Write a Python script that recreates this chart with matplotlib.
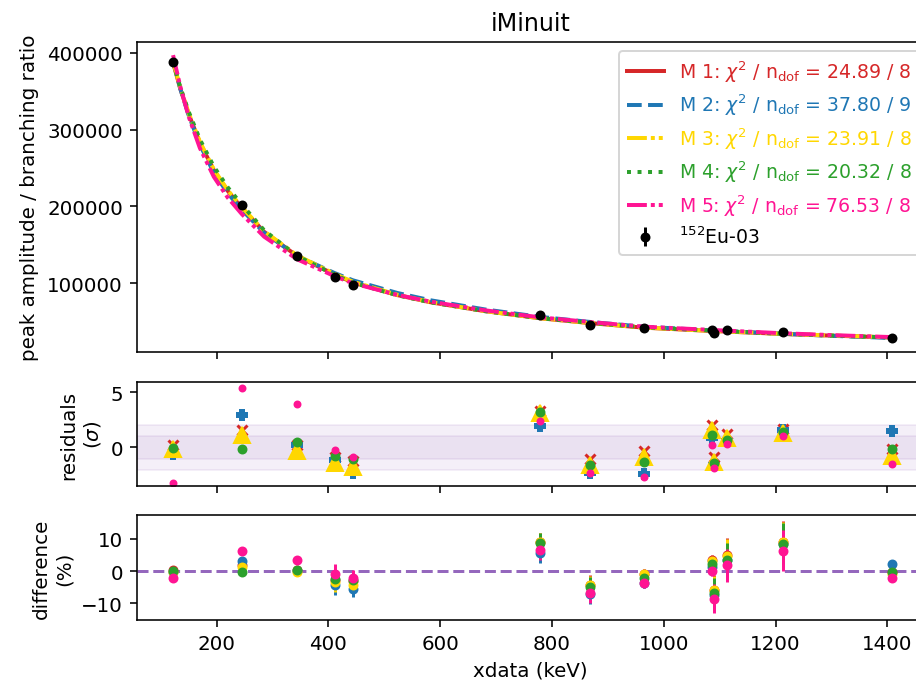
import matplotlib
matplotlib.use("Agg")
import matplotlib.pyplot as plt

# Eu-152 lines (keV) and measured values
xdata = [121.78, 244.70, 344.28, 411.12, 443.96, 778.90, 867.38,
         964.08, 1085.84, 1089.74, 1112.08, 1212.95, 1408.01]
ydata = [388000, 201700, 135600, 108200, 97800, 59200, 46100,
         41700, 39100, 35300, 38700, 37000, 29200]
rel_err = [0.7, 1.1, 0.9, 3.0, 2.5, 2.9, 3.0, 1.5, 1.5, 4.5, 5.2, 6.4, 1.4]  # percent

# fitted model curves, sampled
curve_x = [122, 135, 150, 170, 195, 220, 245, 285, 344, 411, 444, 523,
           583, 680, 779, 867, 964, 1086, 1213, 1300, 1408]
curve_m1 = [387200, 353000, 320000, 283000, 247000, 220000, 198100, 166800, 135300, 111200, 100800,
            84500, 75100, 63600, 54300, 48100, 42100, 37800, 33900, 31700, 29300]
curve_m2 = [389100, 353000, 318400, 280200, 243800, 216900, 195500, 165600, 135400, 113200, 103700,
            87300, 77700, 65800, 56100, 49600, 43300, 38600, 34100, 31500, 28600]
curve_m3 = [388700, 354400, 321300, 284100, 248000, 220900, 198900, 167600, 136100, 112000, 101800,
            85000, 75400, 63700, 54400, 48200, 42200, 37900, 34000, 31900, 29500]
curve_m4 = [388000, 355100, 323200, 287200, 251700, 224600, 202300, 168800, 135300, 110900, 100500,
            84300, 75000, 63600, 54400, 48400, 42600, 38300, 34100, 31800, 29300]
curve_m5 = [396900, 355800, 316800, 275900, 238400, 211200, 190000, 160500, 131100, 109100, 99800,
            84800, 75900, 64700, 55500, 49500, 43400, 39100, 34800, 32400, 29800]

# residuals (sigma)
res_m1 = [0.25, 1.6, 0.2, -0.9, -1.2, 3.3, -1.03, -0.36, 2.0, -0.88, 1.22, 1.65, -0.12]
res_m2 = [-0.6, 2.97, 0.18, -1.1, -2.33, 1.9, -2.27, -2.42, 0.85, -1.6, 0.6, 1.55, 1.52]
res_m3 = [-0.15, 1.1, -0.36, -1.36, -1.78, 3.1, -1.57, -0.9, 1.6, -1.27, 0.85, 1.3, -0.75]
res_m4 = [-0.03, -0.12, 0.45, -0.75, -1.03, 3.18, -1.57, -1.3, 1.15, -1.42, 0.64, 1.36, -0.15]
res_m5 = [-3.18, 5.34, 3.88, -0.27, -0.82, 2.36, -2.33, -2.7, 0.18, -1.82, 0.34, 1.0, -1.51]

# differences (%)
diff_m1 = [0.2, 1.8, 0.2, -2.7, -3.0, 9.0, -4.2, -0.8, 3.4, -5.8, 5.0, 9.2, -0.2]
diff_m2 = [-0.3, 3.1, 0.1, -4.4, -5.7, 5.5, -7.2, -3.6, 1.3, -7.5, 3.5, 8.5, 2.1]
diff_m3 = [-0.2, 1.35, -0.4, -3.4, -4.4, 8.9, -4.4, -1.0, 3.1, -6.0, 4.7, 9.0, -1.0]
diff_m4 = [0.0, -0.3, 0.2, -2.4, -2.7, 8.8, -4.8, -2.1, 2.1, -6.7, 3.6, 8.5, -0.2]
diff_m5 = [-2.2, 6.2, 3.4, -0.8, -2.0, 6.5, -6.9, -3.8, 0.0, -8.6, 1.8, 6.4, -2.0]

chi2 = ["24.89", "37.80", "23.91", "20.32", "76.53"]
ndof = [8, 9, 8, 8, 8]

colors = ["#d62728", "#1f77b4", "#FFD700", "#2ca02c", "#FF1493"]
styles = ["-", "--", (0, (5, 1, 1, 1, 1, 1)), ":", (0, (5, 1, 1, 1, 1, 1))]
res_markers = [("x", 5), ("P", 5.5), ("^", 8), ("o", 4), ("o", 3)]

curves = [curve_m1, curve_m2, curve_m3, curve_m4, curve_m5]
residuals = [res_m1, res_m2, res_m3, res_m4, res_m5]
diffs = [diff_m1, diff_m2, diff_m3, diff_m4, diff_m5]

yerr = [y * e / 100 for y, e in zip(ydata, rel_err)]

fig = plt.figure(figsize=(916 / 143, 683 / 143), dpi=143)
W, H = 916, 683
left, width = 137 / W, 810 / W   # right edge runs past the figure, like the original
ax1 = fig.add_axes([left, 1 - 353 / H, width, 310 / H])
ax2 = fig.add_axes([left, 1 - 487 / H, width, 104 / H], sharex=ax1)
ax3 = fig.add_axes([left, 1 - 621 / H, width, 105 / H], sharex=ax1)

# top panel: data and fits
handles = []
for i in range(5):
    label = r"M %d: $\chi^2$ / n$_\mathrm{dof}$ = %s / %d" % (i + 1, chi2[i], ndof[i])
    ln, = ax1.plot(curve_x, curves[i], color=colors[i], ls=styles[i], lw=2, label=label)
    handles.append(ln)
eb = ax1.errorbar(xdata, ydata, yerr=yerr, fmt="o", color="black", ms=4,
                  label=r"$^{152}$Eu-03", zorder=5)
handles.append(eb)
leg = ax1.legend(handles=handles, loc="upper left", fontsize=9.5,
                 bbox_to_anchor=(619 / W, 1 - 52 / H), bbox_transform=fig.transFigure,
                 borderaxespad=0, labelspacing=0.42)
for txt, c in zip(leg.get_texts(), colors + ["black"]):
    txt.set_color(c)
ax1.set_ylim(10400, 414000)
ax1.set_ylabel("peak amplitude / branching ratio")
ax1.set_title("iMinuit", x=(916 - 137) / 2 / 810 + 0.005)
ax1.tick_params(labelbottom=False)

# residuals
ax2.axhspan(-2, 2, color="tab:purple", alpha=0.1)
ax2.axhspan(-1, 1, color="tab:purple", alpha=0.1)
for i in range(5):
    m, ms = res_markers[i]
    ax2.plot(xdata, residuals[i], ls="none", marker=m, ms=ms, color=colors[i], mew=1.5 if m == "x" else 1)
ax2.set_ylim(-3.48, 5.91)
ax2.set_yticks([0, 5])
ax2.set_ylabel("residuals\n($\\sigma$)")
ax2.tick_params(labelbottom=False)

# differences
ax3.axhline(0, color="tab:purple", ls="--", lw=1.5)
for i in range(5):
    ax3.errorbar(xdata, diffs[i], yerr=rel_err, fmt="o", ms=4, color=colors[i])
ax3.set_ylim(-15.2, 17.45)
ax3.set_yticks([-10, 0, 10])
ax3.set_ylabel("difference\n(%)")
ax3.set_xlabel("xdata (keV)", x=(916 - 137) / 2 / 810 + 0.005)
ax3.set_xlim(57.5, 57.5 + 810 / 0.559)
ax3.set_xticks([200, 400, 600, 800, 1000, 1200, 1400])

fig.savefig("out.png", dpi=143)
